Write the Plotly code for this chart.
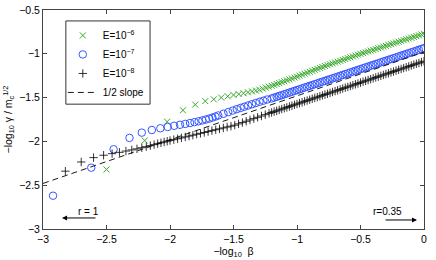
import plotly.graph_objects as go

# ---------------- data ----------------
# shared abscissa for the dense right-hand part of all three series
x_dense = [-1.20, -1.18, -1.16, -1.14, -1.12, -1.10, -1.08, -1.06, -1.04, -1.02,
           -1.00, -0.98, -0.96, -0.94, -0.92, -0.90, -0.88, -0.86, -0.84, -0.82,
           -0.80, -0.78, -0.76, -0.74, -0.72, -0.70, -0.68, -0.66, -0.64, -0.62,
           -0.60, -0.58, -0.56, -0.54, -0.52, -0.50, -0.48, -0.46, -0.44, -0.42,
           -0.40, -0.38, -0.36, -0.34, -0.32, -0.30, -0.28, -0.26, -0.24, -0.22,
           -0.20, -0.18, -0.16, -0.14, -0.12, -0.10, -0.08, -0.06, -0.04, -0.02,
           0.00]

# E = 1e-6 (green x)
green_x_sparse = [-2.500, -2.199, -2.023, -1.898, -1.801, -1.722, -1.655, -1.597,
                  -1.546, -1.500, -1.459, -1.421, -1.386, -1.354, -1.324, -1.296,
                  -1.270, -1.245, -1.222]
green_y_sparse = [-2.32, -1.99, -1.775, -1.645, -1.58, -1.54, -1.52, -1.50,
                  -1.485, -1.47, -1.46, -1.45, -1.44, -1.43, -1.42, -1.41,
                  -1.398, -1.386, -1.375]
green_y_dense = [-1.365, -1.355, -1.345, -1.334, -1.324, -1.314, -1.303, -1.293, -1.282, -1.271,
                 -1.260, -1.249, -1.238, -1.227, -1.216, -1.205, -1.194, -1.183, -1.172, -1.161,
                 -1.151, -1.140, -1.130, -1.120, -1.110, -1.100, -1.090, -1.080, -1.070, -1.060,
                 -1.050, -1.040, -1.030, -1.020, -1.010, -1.001, -0.992, -0.982, -0.973, -0.964,
                 -0.955, -0.946, -0.936, -0.927, -0.918, -0.909, -0.899, -0.890, -0.881, -0.872,
                 -0.863, -0.853, -0.844, -0.835, -0.826, -0.817, -0.808, -0.798, -0.789, -0.780,
                 -0.771]

# E = 1e-7 (blue o)
blue_x_sparse = [-2.921, -2.620, -2.444, -2.319, -2.222, -2.143, -2.076, -2.018,
                 -1.967, -1.921, -1.880, -1.842, -1.807, -1.775, -1.745, -1.717,
                 -1.691, -1.666, -1.642, -1.620, -1.579, -1.541, -1.506, -1.474,
                 -1.444, -1.415, -1.385, -1.355, -1.325, -1.295, -1.265, -1.235]
blue_y_sparse = [-2.62, -2.30, -2.09, -1.96, -1.90, -1.87, -1.85, -1.835,
                 -1.822, -1.81, -1.80, -1.79, -1.78, -1.77, -1.76, -1.75,
                 -1.74, -1.728, -1.716, -1.704, -1.684, -1.665, -1.648, -1.632,
                 -1.618, -1.604, -1.590, -1.576, -1.562, -1.548, -1.535, -1.522]
blue_y_dense = [-1.510, -1.500, -1.491, -1.481, -1.472, -1.462, -1.453, -1.443, -1.433, -1.424,
                -1.414, -1.405, -1.395, -1.385, -1.376, -1.366, -1.357, -1.347, -1.338, -1.328,
                -1.318, -1.309, -1.299, -1.290, -1.280, -1.271, -1.261, -1.251, -1.242, -1.232,
                -1.223, -1.213, -1.203, -1.194, -1.184, -1.175, -1.165, -1.155, -1.146, -1.136,
                -1.127, -1.117, -1.108, -1.098, -1.088, -1.079, -1.069, -1.060, -1.050, -1.041,
                -1.031, -1.021, -1.012, -1.002, -0.993, -0.983, -0.974, -0.964, -0.954, -0.945,
                -0.935]

# E = 1e-8 (black +)
black_x_sparse = [-2.824, -2.699, -2.602, -2.523, -2.456, -2.398, -2.347, -2.301,
                  -2.260, -2.222, -2.187, -2.155, -2.125, -2.097, -2.071, -2.046,
                  -2.022, -2.000, -1.97, -1.94, -1.91, -1.88, -1.85, -1.82, -1.79,
                  -1.76, -1.73, -1.70, -1.67, -1.64, -1.61, -1.58, -1.55, -1.52,
                  -1.49, -1.46, -1.43, -1.40, -1.37, -1.34, -1.31, -1.28, -1.25, -1.22]
black_y_sparse = [-2.34, -2.235, -2.185, -2.158, -2.140, -2.125, -2.110, -2.097,
                  -2.085, -2.072, -2.060, -2.048, -2.037, -2.026, -2.016, -2.007,
                  -1.998, -1.990, -1.980, -1.970, -1.960, -1.949, -1.939, -1.929, -1.918,
                  -1.908, -1.898, -1.888, -1.877, -1.867, -1.857, -1.846, -1.836, -1.826,
                  -1.815, -1.800, -1.785, -1.770, -1.755, -1.740, -1.725, -1.710, -1.695, -1.680]
black_y_dense = [-1.670, -1.660, -1.651, -1.641, -1.631, -1.621, -1.612, -1.602, -1.592, -1.582,
                 -1.573, -1.563, -1.553, -1.543, -1.534, -1.524, -1.514, -1.504, -1.495, -1.485,
                 -1.475, -1.465, -1.456, -1.446, -1.436, -1.426, -1.417, -1.407, -1.397, -1.387,
                 -1.378, -1.368, -1.358, -1.348, -1.339, -1.329, -1.319, -1.309, -1.300, -1.290,
                 -1.280, -1.270, -1.261, -1.251, -1.241, -1.231, -1.222, -1.212, -1.202, -1.192,
                 -1.183, -1.173, -1.163, -1.153, -1.144, -1.134, -1.124, -1.114, -1.105, -1.095,
                 -1.085]

# reference line of slope 1/2
slope_x = [-3.0, 0.0]
slope_y = [-2.48, -0.98]

series_names = ["E=10<sup>−6</sup>", "E=10<sup>−7</sup>", "E=10<sup>−8</sup>", "1/2 slope"]
x_ticks = [-3, -2.5, -2, -1.5, -1, -0.5, 0]
y_ticks = [-3, -2.5, -2, -1.5, -1, -0.5]

# ---------------- figure ----------------
FONT = "Liberation Sans, Arial, Helvetica, sans-serif"
GREEN = "#37a92b"
BLUE = "#3557ff"

fig = go.Figure()
fig.add_trace(go.Scatter(
    x=green_x_sparse + x_dense, y=green_y_sparse + green_y_dense,
    mode="markers", name=series_names[0],
    marker=dict(symbol="x-thin-open", size=6, color=GREEN, line=dict(width=1, color=GREEN))))
fig.add_trace(go.Scatter(
    x=blue_x_sparse + x_dense, y=blue_y_sparse + blue_y_dense,
    mode="markers", name=series_names[1],
    marker=dict(symbol="circle-open", size=7.5, color=BLUE, line=dict(width=1, color=BLUE))))
fig.add_trace(go.Scatter(
    x=black_x_sparse + x_dense, y=black_y_sparse + black_y_dense,
    mode="markers", name=series_names[2],
    marker=dict(symbol="cross-thin-open", size=6, color="black", line=dict(width=0.8, color="black"))))
fig.add_trace(go.Scatter(
    x=slope_x, y=slope_y, mode="lines", name=series_names[3],
    line=dict(color="black", width=0.9, dash="6px,4px")))

axis_common = dict(
    showgrid=False, zeroline=False, showline=True, linecolor="#444", linewidth=1,
    mirror="ticks", ticks="inside", ticklen=4, tickcolor="#444", tickwidth=1,
    automargin=False,
    tickfont=dict(family=FONT, size=10.5, color="black"))

fig.update_xaxes(range=[-3, 0], tickvals=x_ticks,
                 ticktext=[("−" + str(abs(v))) if v < 0 else str(v) for v in x_ticks],
                 title=dict(text="−log<sub>10</sub>  β", font=dict(family=FONT, size=10.5, color="black"), standoff=2),
                 **axis_common)
fig.update_yaxes(range=[-3, -0.5], tickvals=y_ticks, ticktext=["−" + str(abs(v)) for v in y_ticks],
                 title=dict(text="−log<sub>10</sub> γ / m<sub>c</sub><sup>1/2</sup>",
                            font=dict(family=FONT, size=10.5, color="black"), standoff=4),
                 **axis_common)

# arrows with labels
fig.add_annotation(x=-2.85, y=-2.874, ax=-2.575, ay=-2.874, xref="x", yref="y", axref="x", ayref="y",
                   text="", showarrow=True, arrowhead=2, arrowsize=1, arrowwidth=1, arrowcolor="black")
fig.add_annotation(x=-2.638, y=-2.795, xref="x", yref="y", text="r = 1", showarrow=False,
                   font=dict(family=FONT, size=10, color="black"))
fig.add_annotation(x=-0.055, y=-2.897, ax=-0.315, ay=-2.897, xref="x", yref="y", axref="x", ayref="y",
                   text="", showarrow=True, arrowhead=2, arrowsize=1, arrowwidth=1, arrowcolor="black")
fig.add_annotation(x=-0.291, y=-2.80, xref="x", yref="y", text="r=0.35", showarrow=False,
                   font=dict(family=FONT, size=10, color="black"))

# legend frame (the plotly legend itself is drawn without border)
fig.add_shape(type="rect", xref="paper", yref="paper",
              x0=0.060, x1=0.281, y0=0.570, y1=0.950,
              line=dict(color="#333", width=1), fillcolor="white", layer="above")

fig.update_layout(
    width=436, height=260,
    margin=dict(l=43, r=12, t=10, b=31, autoexpand=False),
    paper_bgcolor="white", plot_bgcolor="white",
    font=dict(family=FONT, size=10, color="black"),
    legend=dict(x=0.052, y=0.95, xanchor="left", yanchor="top",
                bgcolor="rgba(0,0,0,0)", borderwidth=0,
                font=dict(family=FONT, size=10, color="black"),
                tracegroupgap=0, itemwidth=30),
    showlegend=True,
)

fig.write_html("out.html", config={"displayModeBar": False},
               post_script="document.body.style.margin='0px';")
